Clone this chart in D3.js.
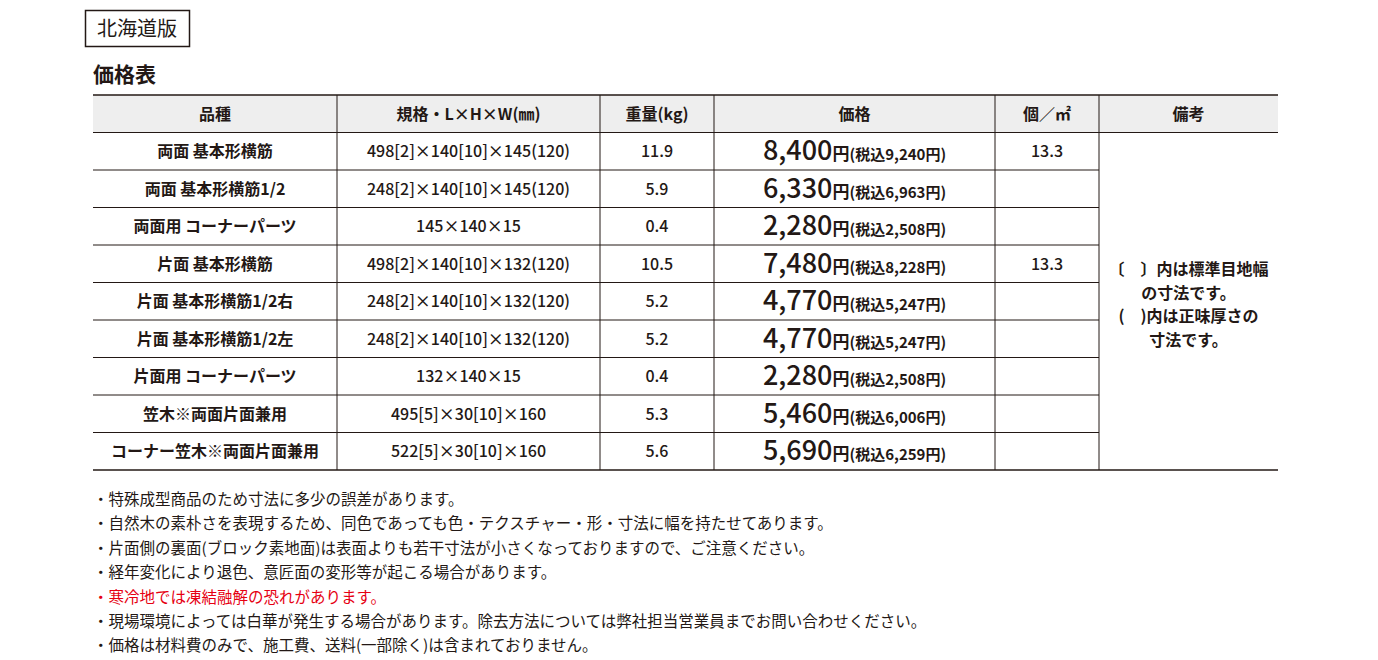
<!DOCTYPE html>
<html lang="ja">
<head>
<meta charset="UTF-8">
<style>
  body { margin: 0; background: #fff; }
  svg { font-family: "Noto Sans CJK JP", sans-serif; }
</style>
</head>
<body>
<div id="chart"></div>
<script src="https://cdn.jsdelivr.net/npm/d3@7"></script>
<script>
const headers = ["品種", "規格・L×H×W(㎜)", "重量(kg)", "価格", "個／㎡", "備考"];
const names = ["両面 基本形横筋", "両面 基本形横筋1/2", "両面用 コーナーパーツ", "片面 基本形横筋",
  "片面 基本形横筋1/2右", "片面 基本形横筋1/2左", "片面用 コーナーパーツ", "笠木※両面片面兼用", "コーナー笠木※両面片面兼用"];
const sizes = ["498[2]×140[10]×145(120)", "248[2]×140[10]×145(120)", "145×140×15",
  "498[2]×140[10]×132(120)", "248[2]×140[10]×132(120)", "248[2]×140[10]×132(120)",
  "132×140×15", "495[5]×30[10]×160", "522[5]×30[10]×160"];
const weights = ["11.9", "5.9", "0.4", "10.5", "5.2", "5.2", "0.4", "5.3", "5.6"];
const prices = ["8,400", "6,330", "2,280", "7,480", "4,770", "4,770", "2,280", "5,460", "5,690"];
const taxPrices = ["9,240", "6,963", "2,508", "8,228", "5,247", "5,247", "2,508", "6,006", "6,259"];
const perM2 = ["13.3", "", "", "13.3", "", "", "", "", ""];
const remarks = ["〔　〕内は標準目地幅", "の寸法です。", "(　)内は正味厚さの", "寸法です。"];
const notes = [
  "・特殊成型商品のため寸法に多少の誤差があります。",
  "・自然木の素朴さを表現するため、同色であっても色・テクスチャー・形・寸法に幅を持たせてあります。",
  "・片面側の裏面(ブロック素地面)は表面よりも若干寸法が小さくなっておりますので、ご注意ください。",
  "・経年変化により退色、意匠面の変形等が起こる場合があります。",
  "・寒冷地では凍結融解の恐れがあります。",
  "・現場環境によっては白華が発生する場合があります。除去方法については弊社担当営業員までお問い合わせください。",
  "・価格は材料費のみで、施工費、送料(一部除く)は含まれておりません。"];
const redNote = 4;

const W = 1378, H = 660;
const svg = d3.select("#chart").append("svg").attr("width", W).attr("height", H);
const ink = "#231815";

// column edges
const colEdges = [93, 337, 600, 714, 995, 1099, 1278];
const x = i => colEdges[i];
const y = d3.scaleLinear().domain([0, 10]).range([95, 470]); // row 0 = header

// title box
svg.append("rect").attr("x", 85.5).attr("y", 10.5).attr("width", 104).attr("height", 36)
  .attr("fill", "none").attr("stroke", ink).attr("stroke-width", 1.5);
svg.append("text").attr("x", 137).attr("y", 36).attr("text-anchor", "middle")
  .attr("font-size", 20).attr("fill", ink).text("北海道版");
svg.append("text").attr("x", 93).attr("y", 82).attr("font-size", 21).attr("font-weight", 700)
  .attr("fill", ink).text("価格表");

// header
svg.append("rect").attr("x", x(0)).attr("y", y(0)).attr("width", x(6) - x(0)).attr("height", y(1) - y(0))
  .attr("fill", "#eeeeee");
headers.forEach((h, i) => {
  svg.append("text").attr("x", (x(i) + x(i + 1)) / 2).attr("y", y(0.5) + 6)
    .attr("text-anchor", "middle").attr("font-size", 16).attr("font-weight", 700).attr("fill", ink).text(h);
});

// grid lines
const line = (x1, y1, x2, y2, w) => svg.append("line").attr("x1", x1).attr("y1", y1)
  .attr("x2", x2).attr("y2", y2).attr("stroke", ink).attr("stroke-width", w || 1);
line(x(0), y(0), x(6), y(0), 1.5);
line(x(0), y(1), x(6), y(1), 1);
d3.range(2, 10).forEach(r => line(x(0), y(r), x(5), y(r), 1));
line(x(0), y(10), x(6), y(10), 1.5);
[1, 2, 3, 4, 5].forEach(c => line(x(c), y(0), x(c), y(10), 1));

// body rows
names.forEach((n, r) => {
  const cy = y(r + 1.5) + 6;
  const cell = (c, t, size, weight) => svg.append("text").attr("x", (x(c) + x(c + 1)) / 2).attr("y", cy)
    .attr("text-anchor", "middle").attr("font-size", size).attr("font-weight", weight).attr("fill", ink).text(t);
  cell(0, n, 16, 700);
  cell(1, sizes[r], 16, 500);
  cell(2, weights[r], 16, 500);
  cell(4, perM2[r], 16, 500);
  const pt = svg.append("text").attr("x", (x(3) + x(4)) / 2).attr("y", cy + 3)
    .attr("text-anchor", "middle").attr("fill", ink).attr("font-weight", 700);
  pt.append("tspan").attr("font-size", 27).attr("font-weight", 500).text(prices[r]);
  pt.append("tspan").attr("font-size", 17).text("円");
  pt.append("tspan").attr("font-size", 15).text("(税込" + taxPrices[r] + "円)");
});

remarks.forEach((t, i) => {
  svg.append("text").attr("x", (x(5) + x(6)) / 2).attr("y", 275 + i * 23.5)
    .attr("text-anchor", "middle").attr("font-size", 16).attr("font-weight", 700).attr("fill", ink).text(t);
});

notes.forEach((t, i) => {
  svg.append("text").attr("x", 93).attr("y", 505 + i * 24.4).attr("font-size", 15.5)
    .attr("fill", i === redNote ? "#e60012" : ink).text(t);
});
</script>
</body>
</html>
